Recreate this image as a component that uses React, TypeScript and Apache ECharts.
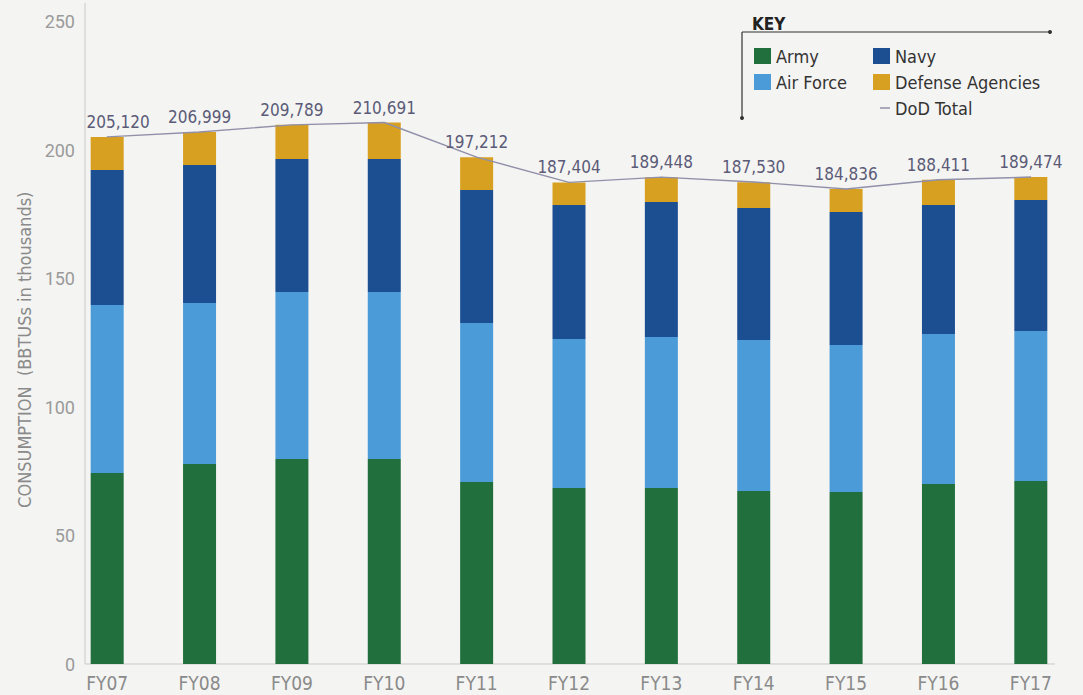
import React, { useEffect, useRef } from "react";
import * as echarts from "echarts";

const categories = ["FY07", "FY08", "FY09", "FY10", "FY11", "FY12", "FY13", "FY14", "FY15", "FY16", "FY17"];
const army = [74.3, 77.8, 79.8, 79.8, 70.8, 68.5, 68.5, 67.3, 66.9, 70.0, 71.2];
const airForce = [65.4, 62.7, 64.9, 64.9, 61.9, 58.0, 58.7, 58.8, 57.2, 58.4, 58.4];
const navy = [52.5, 53.7, 51.8, 51.8, 51.7, 52.1, 52.6, 51.3, 51.8, 50.2, 50.9];
const defenseAgencies = [12.9, 12.8, 13.3, 14.2, 12.8, 8.8, 9.6, 10.1, 8.9, 9.8, 9.0];
const dodTotal = [205120, 206999, 209789, 210691, 197212, 187404, 189448, 187530, 184836, 188411, 189474];
const yMin = 0;
const yMax = 250;
const yStep = 50;

const NARROW = "'Liberation Sans Narrow', 'DejaVu Sans Condensed', Roboto, sans-serif";
const REGULAR = "Roboto, 'Liberation Sans', sans-serif";

const COLORS = {
  army: "#216f3c",
  airForce: "#4b9bd9",
  navy: "#1c4f92",
  agencies: "#d8a020",
  total: "#9190aa",
};

export default function App() {
  const ref = useRef<HTMLDivElement>(null);

  useEffect(() => {
    if (!ref.current) return;
    const chart = echarts.init(ref.current, null, { renderer: "svg" });
    const barBase = { type: "bar", stack: "dod", barWidth: 33, emphasis: { disabled: true } };
    const legendBase = {
      orient: "vertical",
      top: 47,
      padding: 0,
      itemWidth: 17,
      itemHeight: 16,
      itemGap: 8,
      selectedMode: false,
      textStyle: { fontSize: 18, color: "#333", fontFamily: NARROW },
    };
    const option: any = {
      animation: false,
      backgroundColor: "#f4f4f2",
      grid: { left: 61, right: 6, top: 21.5, bottom: 31, containLabel: false },
      xAxis: {
        type: "category",
        data: categories,
        axisLine: { show: false },
        axisTick: { show: false },
        axisLabel: { color: "#8a8a8a", fontSize: 19, fontFamily: NARROW, margin: 9 },
      },
      yAxis: {
        type: "value",
        min: yMin,
        max: yMax,
        interval: yStep,
        offset: -24,
        axisLine: { show: false },
        axisTick: { show: false },
        splitLine: { show: false },
        axisLabel: { color: "#9a9a9a", fontSize: 18, fontFamily: REGULAR, margin: 10 },
        name: "CONSUMPTION  (BBTUSs in thousands)",
        nameLocation: "middle",
        nameGap: 42,
        nameTextStyle: { color: "#8a8a8a", fontSize: 18, fontFamily: NARROW, padding: [0, 14, 0, 0] },
      },
      legend: [
        {
          ...legendBase,
          left: 754,
          data: [
            { name: "Army", icon: "rect" },
            { name: "Air Force", icon: "rect" },
          ],
        },
        {
          ...legendBase,
          left: 873,
          data: [
            { name: "Navy", icon: "rect" },
            { name: "Defense Agencies", icon: "rect" },
            { name: "DoD Total", icon: "path://M0,0.6H0.01V0.7H0Z M7,0H17V1.4H7Z" },
          ],
        },
      ],
      series: [
        { ...barBase, name: "Army", data: army, itemStyle: { color: COLORS.army } },
        { ...barBase, name: "Air Force", data: airForce, itemStyle: { color: COLORS.airForce } },
        { ...barBase, name: "Navy", data: navy, itemStyle: { color: COLORS.navy } },
        { ...barBase, name: "Defense Agencies", data: defenseAgencies, itemStyle: { color: COLORS.agencies } },
        {
          type: "line",
          name: "DoD Total",
          data: dodTotal.map((v, i) => (i === 0 ? { value: v / 1000, label: { offset: [11, 0] } } : v / 1000)),
          symbol: "circle",
          symbolSize: 1,
          showSymbol: true,
          showAllSymbol: true,
          z: 5,
          lineStyle: { color: COLORS.total, width: 1.4 },
          itemStyle: { color: COLORS.total },
          emphasis: { disabled: true },
          label: {
            show: true,
            position: "top",
            distance: 6,
            formatter: (p: any) => dodTotal[p.dataIndex].toLocaleString("en-US"),
            color: "#5b5b78",
            fontSize: 17,
            fontFamily: NARROW,
          },
        },
      ],
      graphic: [
        { type: "line", shape: { x1: 85, y1: 3, x2: 85, y2: 664 }, style: { stroke: "#c9c9c9", lineWidth: 1 } },
        { type: "line", shape: { x1: 85, y1: 664, x2: 1055, y2: 664 }, style: { stroke: "#c9c9c9", lineWidth: 1 } },
        {
          type: "text",
          x: 752,
          y: 15,
          style: { text: "KEY", fill: "#222", fontSize: 17, fontWeight: "bold", fontFamily: NARROW },
        },
        { type: "line", shape: { x1: 742, y1: 32, x2: 1050, y2: 32 }, style: { stroke: "#333", lineWidth: 1.2 } },
        { type: "line", shape: { x1: 742, y1: 32, x2: 742, y2: 118 }, style: { stroke: "#333", lineWidth: 1.2 } },
        { type: "circle", shape: { cx: 1050, cy: 32, r: 2 }, style: { fill: "#333" } },
        { type: "circle", shape: { cx: 742, cy: 118, r: 2 }, style: { fill: "#333" } },
      ],
    };
    chart.setOption(option);
    return () => chart.dispose();
  }, []);

  return (
    <div
      ref={ref}
      style={{ position: "absolute", left: 0, top: 0, width: 1083, height: 695 }}
    />
  );
}
